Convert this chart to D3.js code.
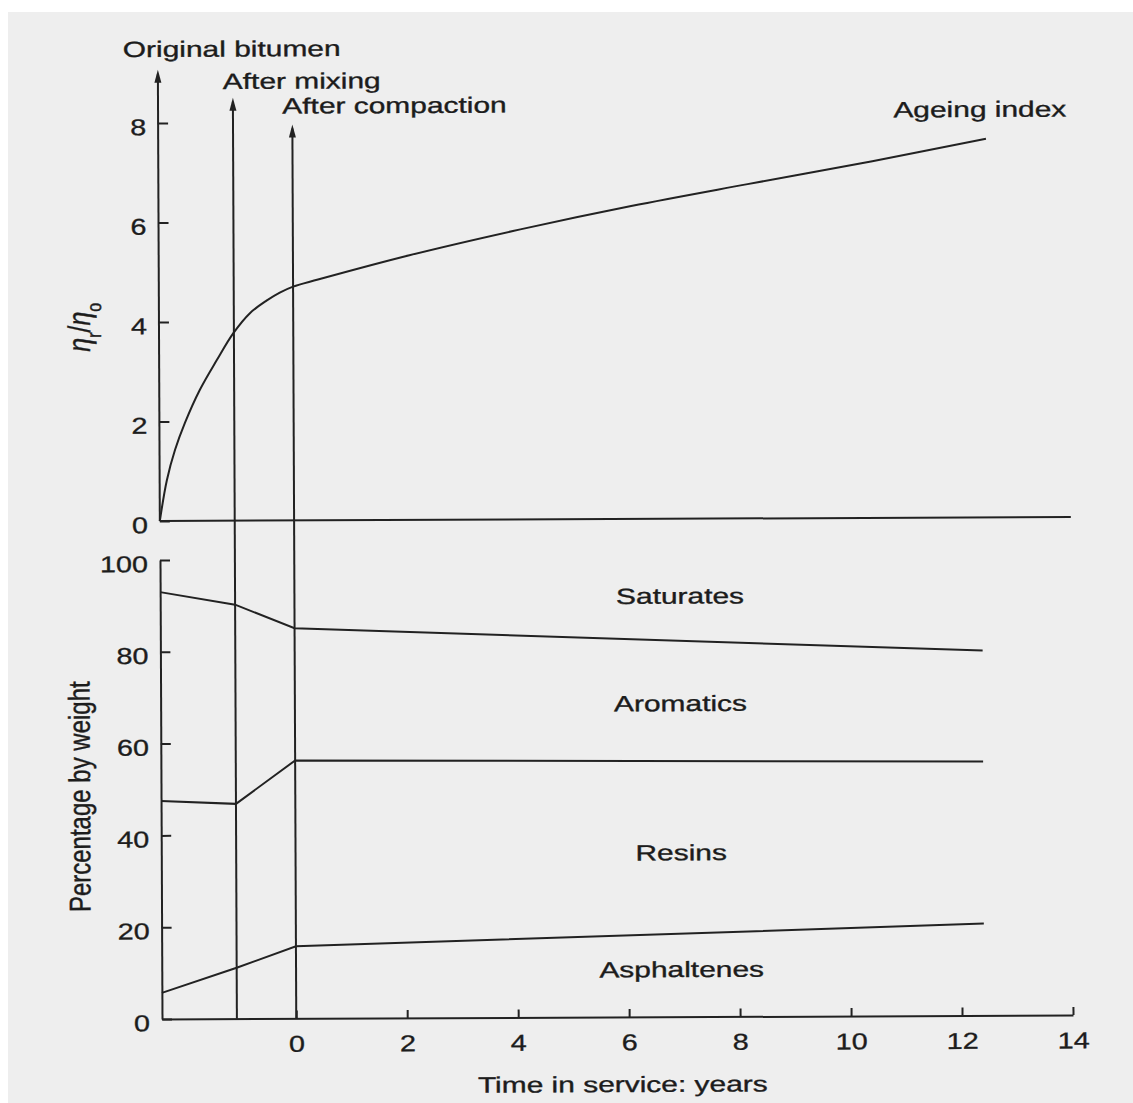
<!DOCTYPE html>
<html>
<head>
<meta charset="utf-8">
<script src="https://cdn.jsdelivr.net/npm/d3@7"></script>
<style>
  body { margin: 0; background: #fff; }
  svg text { font-family: "Liberation Sans", Arial, sans-serif; fill: #1c1c1c; stroke: #1c1c1c; stroke-width: 0.35px; }
</style>
</head>
<body>
<svg id="chart"></svg>
<script>
// stages before service (plotted left of time 0)
var stageNames = ["Original bitumen", "After mixing", "After compaction"];
var stageTime = [-2.42, -1.07, 0];

// ageing index curve, top panel
var ageTime = [-2.42, -2.29, -2.14, -1.96, -1.69, -1.38, -1.08, -0.78, -0.48, -0.24, 0, 0.45, 2.1, 4.1, 6.1, 8.2, 10.45, 12.5];
var ageIndex = [0, 0.82, 1.43, 1.97, 2.63, 3.23, 3.77, 4.17, 4.42, 4.58, 4.7, 4.84, 5.32, 5.83, 6.29, 6.72, 7.17, 7.61];

// composition, bottom panel (percentage by weight)
var compTime = [-2.42, -1.07, 0, 12.4];
var asphaltenes = [5.7, 11.1, 15.7, 20.0];
var resins = [41.8, 35.7, 40.5, 35.3];
var aromatics = [45.5, 43.4, 28.8, 24.2];
var saturates = [7.0, 9.8, 15.0, 20.5];
var fractions = ["Asphaltenes", "Resins", "Aromatics", "Saturates"];

var ageTicks = [0, 2, 4, 6, 8];
var pctTicks = [0, 20, 40, 60, 80, 100];
var timeTicks = [0, 2, 4, 6, 8, 10, 12, 14];

var width = 1133, height = 1103;
var ink = "#222";
var sx = 1.36;    // the scanned lettering is stretched sideways
var sxTick = 1.25;

var svg = d3.select("#chart").attr("width", width).attr("height", height);

svg.append("rect")
  .attr("x", 8).attr("y", 12)
  .attr("width", width - 8).attr("height", height - 12)
  .attr("fill", "#eeeeee");

// the scanned page sits a little askew
var g = svg.append("g").attr("transform", "rotate(-0.25,162,1019)");

var x = d3.scaleLinear().domain([-2.42, 14]).range([162, 1073]);
var yTop = d3.scaleLinear().domain([0, 8]).range([521, 123]);
var yBot = d3.scaleLinear().domain([0, 100]).range([1019, 560]);

function label(px, py, str, anchor) {
  return g.append("text")
    .attr("transform", `translate(${px},${py}) scale(${sx},1)`)
    .attr("text-anchor", anchor || "start")
    .style("font-size", "22px")
    .text(str);
}

function arrowUp(px, py) {
  g.append("path")
    .attr("d", `M${px},${py} L${px - 3.5},${py + 13} L${px + 3.5},${py + 13} Z`)
    .attr("fill", ink);
}

function styleTicks(axis, shrink) {
  axis.selectAll("line").attr("stroke", ink).attr("stroke-width", 2);
  axis.selectAll("text")
    .style("font-size", "23px").attr("fill", "#1c1c1c")
    .attr("transform", `scale(${shrink},1)`);
}

// ---- top panel ----
var tipValue = [9.07, 8.5, 7.96];
var stageLabelValue = [9.33, 8.68, 8.18];
var labelShift = [-35, -10, -10];
stageTime.forEach(function (t, i) {
  var px = x(t);
  var bottom = i === 0 ? yTop(0) : yBot(0);
  g.append("line")
    .attr("x1", px).attr("x2", px)
    .attr("y1", bottom).attr("y2", yTop(tipValue[i]) + 4)
    .attr("stroke", ink).attr("stroke-width", 2);
  arrowUp(px, yTop(tipValue[i]));
  label(px + labelShift[i], yTop(stageLabelValue[i]), stageNames[i]);
});

g.append("line")
  .attr("x1", x(-2.42)).attr("x2", x(14))
  .attr("y1", yTop(0)).attr("y2", yTop(0))
  .attr("stroke", ink).attr("stroke-width", 2);

var topAxis = g.append("g")
  .attr("transform", `translate(${x(-2.42)},0)`)
  .call(d3.axisLeft(yTop).tickValues(ageTicks).tickSizeInner(-10).tickSizeOuter(0).tickPadding(12));
topAxis.select(".domain").remove();
styleTicks(topAxis, sxTick);
topAxis.selectAll("text").attr("x", -12 / sxTick).attr("dy", "0.5em");

g.append("path")
  .datum(d3.zip(ageTime, ageIndex))
  .attr("fill", "none")
  .attr("stroke", ink)
  .attr("stroke-width", 2)
  .attr("d", d3.line().x(d => x(d[0])).y(d => yTop(d[1])).curve(d3.curveCatmullRom.alpha(0.5)));

label(x(12.5) - 6, yTop(8.05), "Ageing index", "middle");

var eta = g.append("text")
  .attr("transform", `translate(93,${yTop(3.9)}) rotate(-90) scale(1,${sxTick})`)
  .attr("text-anchor", "middle")
  .style("font-size", "25px");
eta.append("tspan").style("font-style", "italic").text("η");
eta.append("tspan").attr("baseline-shift", "sub").style("font-size", "16px").text("r");
eta.append("tspan").text("/");
eta.append("tspan").style("font-style", "italic").text("η");
eta.append("tspan").attr("baseline-shift", "sub").style("font-size", "16px").text("o");

// ---- bottom panel ----
var rows = compTime.map(function (t, i) {
  return { time: t, Asphaltenes: asphaltenes[i], Resins: resins[i], Aromatics: aromatics[i], Saturates: saturates[i] };
});
var stacked = d3.stack().keys(fractions)(rows);

var boundary = d3.line().x(d => x(d.data.time)).y(d => yBot(d[1]));
g.selectAll(".boundary")
  .data(stacked.slice(0, 3))
  .join("path")
  .attr("class", "boundary")
  .attr("fill", "none")
  .attr("stroke", ink)
  .attr("stroke-width", 2)
  .attr("d", boundary);

var botY = g.append("g")
  .attr("transform", `translate(${x(-2.42)},0)`)
  .call(d3.axisLeft(yBot).tickValues(pctTicks).tickSizeInner(-10).tickSizeOuter(0).tickPadding(12));
botY.select(".domain").attr("stroke", ink).attr("stroke-width", 2);
styleTicks(botY, sxTick);
botY.selectAll("text").attr("x", -12 / sxTick).attr("dy", "0.5em");

var botX = g.append("g")
  .attr("transform", `translate(0,${yBot(0)})`)
  .call(d3.axisBottom(x).tickValues(timeTicks).tickSizeInner(-8).tickSizeOuter(0).tickPadding(17));
botX.select(".domain").attr("stroke", ink).attr("stroke-width", 2);
styleTicks(botX, sxTick);

var fracLabelValue = { Saturates: 90.0, Aromatics: 66.6, Resins: 34.1, Asphaltenes: 8.65 };
fractions.forEach(function (f) {
  label(x(6.95), yBot(fracLabelValue[f]), f, "middle");
});

label(x(5.88), 1094, "Time in service: years", "middle");

g.append("text")
  .attr("transform", `translate(91,${yBot(48.5)}) rotate(-90) scale(1,${sxTick})`)
  .attr("text-anchor", "middle")
  .style("font-size", "24px")
  .text("Percentage by weight");
</script>
</body>
</html>
